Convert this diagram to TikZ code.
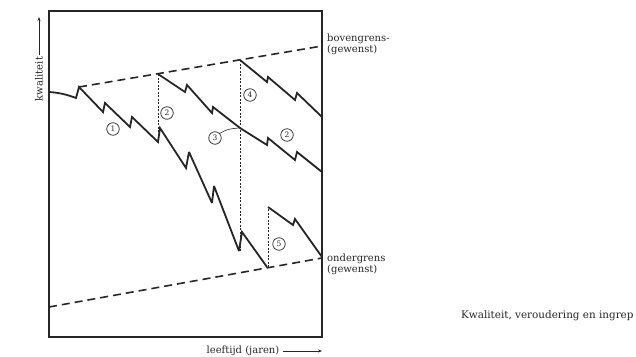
\documentclass[tikz,border=0pt]{standalone}
\usepackage{fontspec}
\setmainfont{DejaVu Serif}
\usetikzlibrary{arrows.meta}
\definecolor{ink}{RGB}{38,38,38}
\tikzset{
  frame/.style={draw=ink, line width=1.2pt},
  curve/.style={draw=ink, line width=1.8pt, line join=miter, miter limit=3},
  bound/.style={draw=ink, line width=1.6pt, dash pattern=on 8pt off 5pt},
  guide/.style={draw=ink, line width=0.6pt, dash pattern=on 2pt off 1.5pt},
  numlab/.style={circle, draw=ink, line width=0.7pt, inner sep=0pt, minimum size=12.5pt, text=ink, font=\fontsize{7.5}{7.5}\selectfont},
  lab/.style={text=ink, font=\fontsize{10}{11}\selectfont, inner sep=0pt},
  axarrow/.style={draw=ink, line width=0.7pt, -{Stealth[length=4pt,width=3pt]}}
}
\begin{document}
\begin{tikzpicture}[x=1pt, y=-1pt]
\useasboundingbox (0,0) rectangle (636,356);
% frame
\draw[frame] (49,11) rectangle (322,337);
% boundaries
\draw[bound] (79,87) -- (322,46);
\draw[bound] (49,307) -- (322,258);
% guide lines (interventions)
\draw[guide] (158,74) -- (158,142);
\draw[guide] (240,60) -- (240,251);
\draw[guide] (268,267) -- (268,207);
% curves
\draw[curve] (49,92) .. controls (58,92.5) and (67,94.5) .. (76,98) -- (79,87)
  -- (103,112) -- (105,103) -- (130,127) -- (132,117) -- (158,142) -- (160,128)
  -- (186,168) -- (189,152) -- (212,203) -- (214,186) -- (239,251) -- (242,232)
  -- (267,267);
\draw[curve] (158,74) -- (185,92) -- (187,85) -- (212,113) -- (213,107) -- (240,128)
  -- (267,145) -- (268,138) -- (295,160) -- (297,152) -- (322,172);
\draw[curve] (240,60) -- (267,82) -- (268,77) -- (295,100) -- (297,93) -- (322,117);
\draw[curve] (268,207) -- (293,225) -- (295,219) -- (322,257);
% number labels
\node[numlab] (n1) at (113,129) {1};
\node[numlab] (n2) at (167,113) {2};
\node[numlab] (n3) at (215,138) {3};
\node[numlab] (n4) at (250,95) {4};
\node[numlab] (n2b) at (287,135) {2};
\node[numlab] (n5) at (279,244) {5};
\coordinate (p3) at (239,128);
\draw[ink, line width=0.6pt] (n3.north east) .. controls (228,129) .. (p3);
% axis labels
\node[lab, rotate=90] (ylab) at (39,79) {kwaliteit};
\coordinate (ytip) at (39,17);
\draw[axarrow] (ylab.east) ++(0,-2) -- (ytip);
\node[lab] (xlab) at (243,351) {leeftijd (jaren)};
\coordinate (xtip) at (322,351);
\draw[axarrow] (xlab.east) ++(3,0) -- (xtip);
% right labels
\node[lab, anchor=west, align=left] (ub) at (327,44) {bovengrens-\\(gewenst)};
\node[lab, anchor=west, align=left] (lb) at (327,264) {ondergrens\\(gewenst)};
% caption (as printed, cut off at the edge)
\node[lab, anchor=west, font=\fontsize{10.4}{12}\selectfont] (cap) at (461,316) {Kwaliteit, veroudering en ingrep};
\end{tikzpicture}
\end{document}
